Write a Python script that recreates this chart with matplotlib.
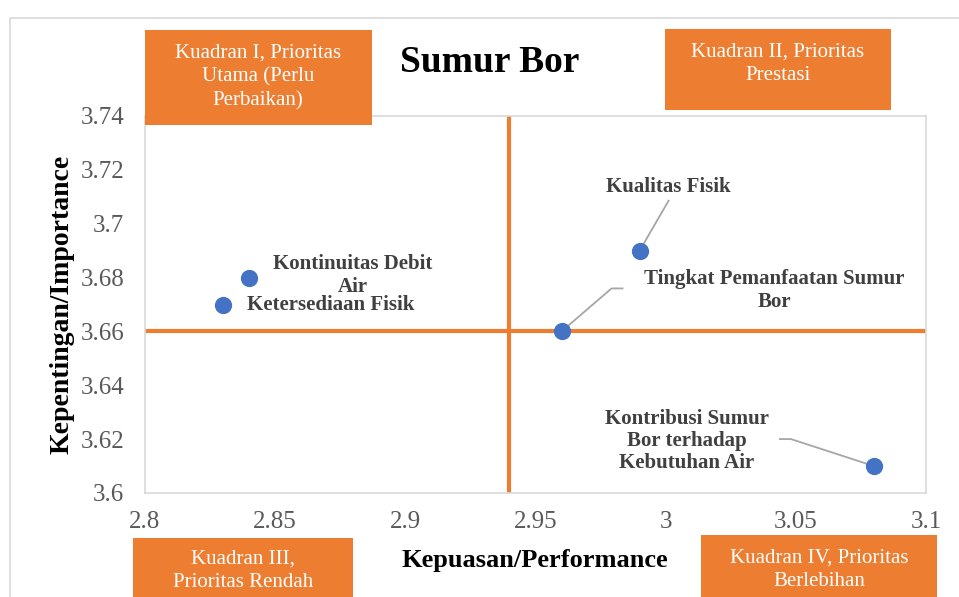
import numpy as np
import matplotlib.pyplot as plt
from matplotlib.patches import Rectangle

plt.rcParams['font.family'] = ['Liberation Serif', 'DejaVu Serif']

# data
names = ['Kontinuitas Debit\nAir', 'Ketersediaan Fisik', 'Kualitas Fisik',
         'Tingkat Pemanfaatan Sumur\nBor', 'Kontribusi Sumur\nBor terhadap\nKebutuhan Air']
kepuasan = [2.84, 2.83, 2.99, 2.96, 3.08]
kepentingan = [3.68, 3.67, 3.69, 3.66, 3.61]
mean_x = 2.94
mean_y = 3.66
xticks = [2.8, 2.85, 2.9, 2.95, 3.0, 3.05, 3.1]
xtick_labels = ['2.8', '2.85', '2.9', '2.95', '3', '3.05', '3.1']
yticks = [3.6, 3.62, 3.64, 3.66, 3.68, 3.7, 3.72, 3.74]
ytick_labels = ['3.6', '3.62', '3.64', '3.66', '3.68', '3.7', '3.72', '3.74']
kuadran = ['Kuadran I, Prioritas\nUtama (Perlu\nPerbaikan)',
           'Kuadran II, Prioritas\nPrestasi',
           'Kuadran III,\nPrioritas Rendah',
           'Kuadran IV, Prioritas\nBerlebihan']

W, H = 959, 597
fig = plt.figure(figsize=(W / 100, H / 100), dpi=100)

def fx(px):
    return px / W

def fy(py):
    return 1 - py / H

# outer chart frame
fig.patches.append(Rectangle((fx(10), fy(700)), fx(1000), fy(18) - fy(700),
                             transform=fig.transFigure, fill=False,
                             edgecolor='#d9d9d9', lw=1.2, zorder=0))

ax = fig.add_axes([fx(145), fy(493), fx(926) - fx(145), fy(116) - fy(493)])
ax.set_xlim(2.8, 3.1)
ax.set_ylim(3.6, 3.74)
for s in ax.spines.values():
    s.set_color('#d9d9d9')
    s.set_linewidth(1.2)

ax.axvline(mean_x, color='#ED7D31', lw=3, zorder=2)
ax.axhline(mean_y, color='#ED7D31', lw=3, zorder=2)
ax.scatter(kepuasan, kepentingan, s=130, color='#4472C4', zorder=4)

ax.set_xticks(xticks)
ax.set_xticklabels(xtick_labels)
ax.set_yticks(yticks)
ax.set_yticklabels(ytick_labels)
ax.tick_params(length=0, labelsize=18, colors='#595959', pad=13)
ax.tick_params(axis='y', pad=15)

ax.set_xlabel('Kepuasan/Performance', fontsize=19, fontweight='bold', va='center')
ax.set_ylabel('Kepentingan/Importance', fontsize=20, fontweight='bold', va='center')
ax.xaxis.set_label_coords(0.4994, -0.178)
ax.yaxis.set_label_coords(-0.106, 0.5)

# data labels: text centre offset from point, in pixels (right, down)
text_off = [(104, -2), (108, 0), (29, -64), (213, -41), (-187, -25)]
# leader line vertices, pixel offsets from point (None = no leader)
leaders = [None, None,
           [(0, 0), (29, -50)],
           [(0, 0), (50, -43), (61, -43)],
           [(0, 0), (-83, -27), (-94, -27)]]

to_data = ax.transData.inverted()
for name, x, y, off, ld in zip(names, kepuasan, kepentingan, text_off, leaders):
    ax.annotate(name, (x, y), xytext=(off[0] * 0.72, -off[1] * 0.72),
                textcoords='offset points', ha='center', va='center',
                fontsize=15, fontweight='bold', color='#404040',
                linespacing=1.15, zorder=5)
    if ld:
        px, py = ax.transData.transform((x, y))
        pts = to_data.transform([(px + dx, py - dy) for dx, dy in ld])
        ax.plot(pts[:, 0], pts[:, 1], color='#a6a6a6', lw=1.3, zorder=3)

# title
fig.text(fx(490), fy(62), 'Sumur Bor', fontsize=27, fontweight='bold',
         ha='center', va='center')

# quadrant boxes: (left, top, right, bottom) in pixels
boxes = [(145, 30, 372, 125), (665, 29, 891, 110),
         (133, 538, 353, 610), (701, 535, 937, 610)]
text_centers = [(258, 77), (778, 64), (243, 571), (819, 570)]
for txt, (l, t, r, b), (cx, cy) in zip(kuadran, boxes, text_centers):
    fig.patches.append(Rectangle((fx(l), fy(b)), fx(r) - fx(l), fy(t) - fy(b),
                                 transform=fig.transFigure, facecolor='#ED7D31',
                                 edgecolor='none', zorder=6))
    fig.text(fx(cx), fy(cy), txt, color='white', fontsize=15, ha='center',
             va='center', linespacing=1.3, zorder=7)

fig.savefig('out.png', dpi=100)
